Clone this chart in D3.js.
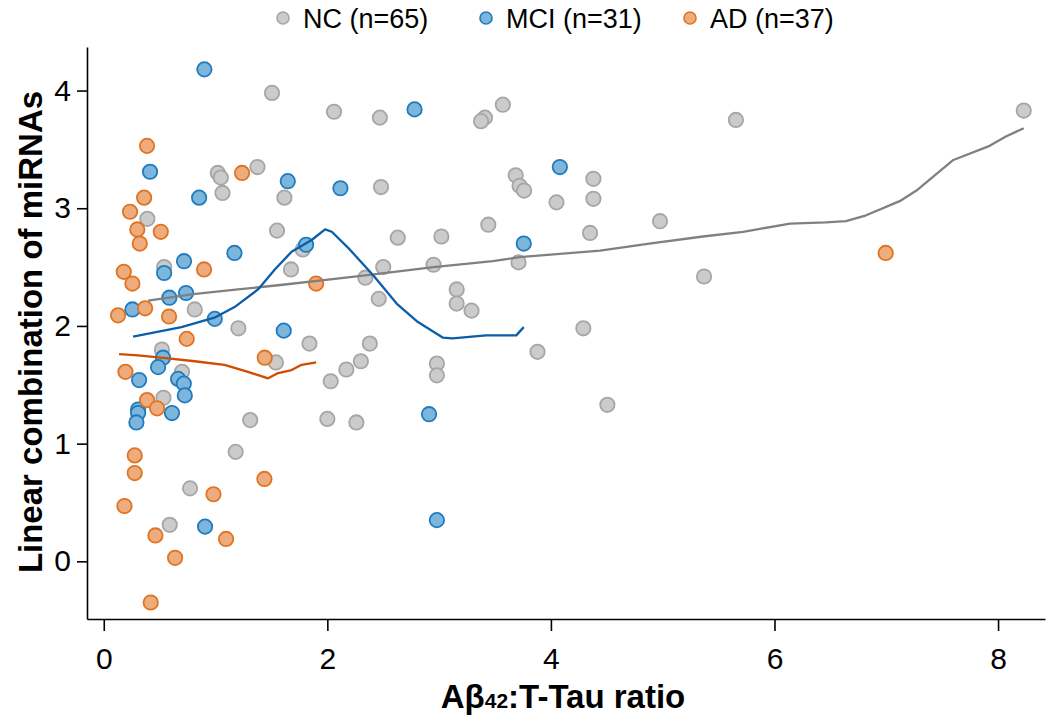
<!DOCTYPE html>
<html>
<head>
<meta charset="utf-8">
<script src="https://cdn.jsdelivr.net/npm/d3@7"></script>
<style>
  html, body { margin: 0; padding: 0; background: #fff; }
  svg { display: block; }
  text { font-family: "Liberation Sans", Arial, Helvetica, sans-serif; fill: #000; }
</style>
</head>
<body>
<svg id="chart" width="1050" height="725"></svg>
<script>
// ---------- DATA ----------
const groupNames = ["NC (n=65)", "MCI (n=31)", "AD (n=37)"];

const ncPoints = [
  [1.505,3.98],[2.06,3.82],[1.02,3.30],[1.047,3.26],[1.375,3.35],[1.062,3.13],[1.616,3.09],
  [0.39,2.91],[1.55,2.81],[1.78,2.65],[0.54,2.50],[1.675,2.48],[0.814,2.14],[1.204,1.98],
  [1.84,1.85],[0.52,1.80],[1.54,1.69],[0.70,1.61],[2.03,1.53],[0.534,1.39],[1.31,1.20],
  [2.00,1.21],[1.18,0.93],[0.772,0.62],[0.59,0.31],[2.47,3.77],[3.41,3.77],[3.375,3.74],
  [3.57,3.88],[3.685,3.28],[3.72,3.19],[3.76,3.15],[4.38,3.25],[4.38,3.08],[4.05,3.05],
  [2.48,3.18],[3.44,2.86],[4.35,2.79],[2.63,2.75],[3.02,2.76],[2.50,2.50],[2.95,2.52],
  [3.71,2.54],[2.34,2.41],[2.46,2.23],[3.157,2.31],[3.157,2.19],[3.29,2.13],[4.29,1.98],
  [3.88,1.78],[2.38,1.85],[2.30,1.70],[2.17,1.63],[2.98,1.68],[2.98,1.58],[4.505,1.33],
  [2.26,1.18],[5.655,3.75],[4.976,2.89],[5.37,2.42],[8.23,3.83]
];

const mciPoints = [
  [0.90,4.18],[0.414,3.31],[1.646,3.23],[0.853,3.09],[2.117,3.17],[2.78,3.84],[4.08,3.35],
  [3.757,2.70],[1.81,2.69],[1.169,2.62],[0.718,2.55],[0.54,2.45],[0.587,2.24],[0.736,2.28],
  [0.256,2.14],[0.993,2.06],[1.61,1.96],[0.53,1.73],[0.486,1.65],[0.316,1.54],[0.665,1.55],
  [0.716,1.51],[0.725,1.41],[0.307,1.29],[0.307,1.26],[0.61,1.26],[0.292,1.18],[2.91,1.25],
  [0.906,0.295],[2.98,0.35]
];

const adPoints = [
  [0.387,3.53],[1.237,3.30],[0.361,3.09],[0.235,2.97],[0.30,2.82],[0.51,2.80],[0.322,2.70],
  [0.179,2.46],[0.897,2.48],[0.256,2.36],[1.90,2.36],[0.37,2.15],[0.128,2.09],[0.584,2.08],
  [0.742,1.89],[1.44,1.73],[0.194,1.61],[0.387,1.37],[0.477,1.30],[0.277,0.90],[0.277,0.75],
  [1.437,0.70],[0.981,0.57],[0.185,0.47],[0.462,0.22],[1.094,0.19],[0.638,0.03],[0.42,-0.35],
  [6.995,2.62]
];

// smoothed (loess) curves per group
const ncCurve = [
  [0.397,2.215],[0.8,2.27],[1.2,2.31],[1.6,2.35],[2.066,2.40],[2.34,2.43],[2.95,2.50],
  [3.48,2.55],[3.72,2.585],[4.44,2.64],[4.88,2.70],[5.36,2.76],[5.72,2.80],[6.14,2.87],
  [6.46,2.88],[6.64,2.89],[6.82,2.94],[7.12,3.06],[7.27,3.15],[7.60,3.41],[7.925,3.53],
  [8.07,3.61],[8.23,3.68]
];
const mciCurve = [
  [0.262,1.91],[0.695,1.99],[0.99,2.07],[1.17,2.16],[1.38,2.31],[1.53,2.48],[1.68,2.63],
  [1.86,2.73],[1.98,2.82],[2.04,2.80],[2.20,2.65],[2.41,2.43],[2.62,2.19],[2.80,2.04],
  [3.035,1.90],[3.12,1.895],[3.42,1.92],[3.69,1.92],[3.757,1.99]
];
const adCurve = [
  [0.137,1.76],[0.307,1.75],[0.575,1.725],[0.814,1.70],[1.08,1.67],[1.29,1.61],[1.47,1.555],
  [1.56,1.60],[1.68,1.625],[1.77,1.67],[1.90,1.69]
];

const xTicks = [0, 2, 4, 6, 8];
const yTicks = [0, 1, 2, 3, 4];

// ---------- STYLE ----------
const styles = [
  { fill: "#cbcbcb", stroke: "#a6a6a6", line: "#808080" },
  { fill: "#7db6dd", stroke: "#1f7bbd", line: "#0a5ea8" },
  { fill: "#eeac7c", stroke: "#df7424", line: "#d04c00" }
];

const svg = d3.select("#chart");
const plotLeft = 87, plotRight = 1045, plotTop = 47, plotBottom = 619;

const x = d3.scaleLinear().domain([-0.15, 8.42]).range([plotLeft, plotRight]);
const y = d3.scaleLinear().domain([-0.49, 4.37]).range([plotBottom, plotTop]);

// points
const groups = [ncPoints, mciPoints, adPoints];
groups.forEach((pts, i) => {
  svg.append("g").selectAll("circle").data(pts).join("circle")
    .attr("cx", d => x(d[0]))
    .attr("cy", d => y(d[1]))
    .attr("r", 7.2)
    .attr("fill", styles[i].fill)
    .attr("stroke", styles[i].stroke)
    .attr("stroke-width", 1.8);
});

// curves
const line = d3.line().x(d => x(d[0])).y(d => y(d[1]));
[ncCurve, mciCurve, adCurve].forEach((c, i) => {
  svg.append("path").datum(c)
    .attr("d", line)
    .attr("fill", "none")
    .attr("stroke", styles[i].line)
    .attr("stroke-width", 2.3)
    .attr("stroke-linejoin", "round");
});

// axes
const fmt = d3.format("d");
const xAxis = d3.axisBottom(x).tickValues(xTicks).tickFormat(fmt).tickSize(12).tickPadding(17).tickSizeOuter(0);
const gx = svg.append("g").attr("transform", `translate(0,${plotBottom})`).call(xAxis);
gx.attr("font-size", null).attr("font-family", null);
gx.select(".domain").attr("stroke", "#000").attr("stroke-width", 1.6);
gx.selectAll(".tick line").attr("stroke", "#000").attr("stroke-width", 1.6);
gx.selectAll(".tick text").style("font-size", "30px");

const yAxis = d3.axisLeft(y).tickValues(yTicks).tickFormat(fmt).tickSize(10).tickPadding(6).tickSizeOuter(0);
const gy = svg.append("g").attr("transform", `translate(${plotLeft},0)`).call(yAxis);
gy.attr("font-size", null).attr("font-family", null);
gy.select(".domain").attr("stroke", "#000").attr("stroke-width", 1.6);
gy.selectAll(".tick line").attr("stroke", "#000").attr("stroke-width", 1.6);
gy.selectAll(".tick text").style("font-size", "30px");

// axis titles
const xt = svg.append("text")
  .attr("x", 563).attr("y", 708)
  .attr("text-anchor", "middle")
  .style("font-size", "33px").style("font-weight", "bold");
xt.append("tspan").text("Aβ");
xt.append("tspan").text("42").style("font-size", "21px");
xt.append("tspan").text(":T-Tau ratio");

svg.append("text")
  .attr("transform", "translate(42,332) rotate(-90)")
  .attr("text-anchor", "middle")
  .style("font-size", "33px").style("font-weight", "bold")
  .text("Linear combination of miRNAs");

// legend
const legendX = [283, 486, 690];
groupNames.forEach((name, i) => {
  svg.append("circle")
    .attr("cx", legendX[i]).attr("cy", 18).attr("r", 6)
    .attr("fill", styles[i].fill).attr("stroke", styles[i].stroke).attr("stroke-width", 1.6);
  svg.append("text")
    .attr("x", legendX[i] + 20).attr("y", 28)
    .style("font-size", "27px")
    .text(name);
});
</script>
</body>
</html>
